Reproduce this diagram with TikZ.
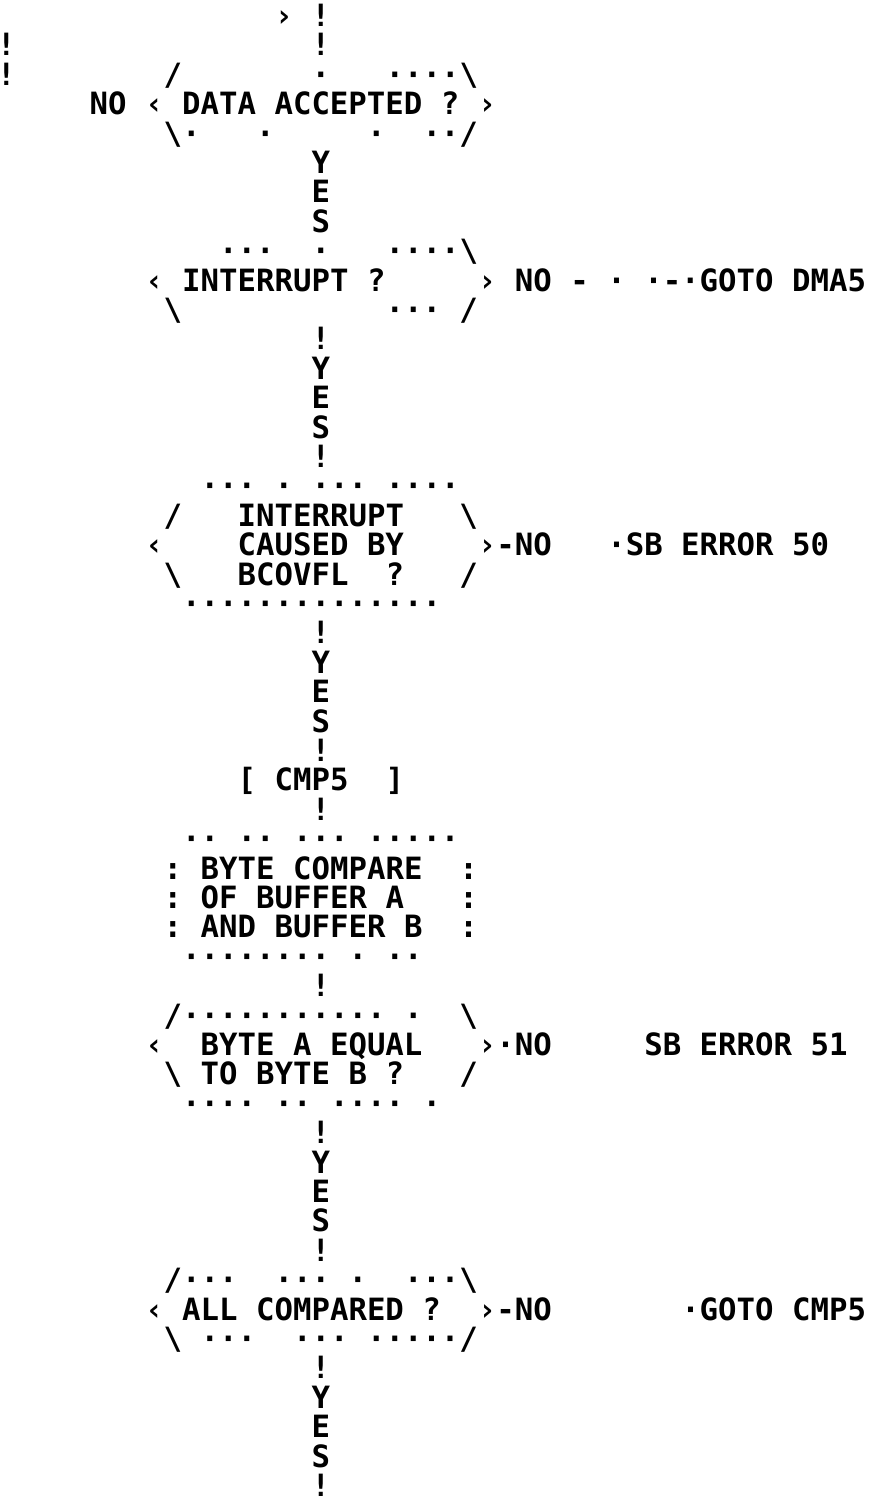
\documentclass[tikz,border=0pt]{standalone}
\usepackage{fontspec}
\setmonofont{DejaVu Sans Mono}
\usepackage{tikz}
\frenchspacing
\newcommand\lpfont{\ttfamily\bfseries\fontsize{30.7}{31}\selectfont}
\tikzset{lp/.style={anchor=base west, inner sep=0pt, outer sep=0pt, font=\lpfont}}

\begin{document}
\begin{tikzpicture}[x=18.5pt, y=29.4pt]
\useasboundingbox (-17.35,-0.1) rectangle (30.59,-51.22);
% entry
\node [lp] (in) at (-2.5,-1) {›~!};
\node [lp] (l2a) at (-17.5,-2) {!};
\node [lp] (l2b) at (-0.5,-2) {!};
\node [lp] (l3a) at (-17.5,-3) {!};
\node [lp] (l3b) at (-8.5,-3) {/};
\node [lp] (l3c) at (-0.5,-3) {·};
\node [lp] (l3d) at (3.5,-3) {····\textbackslash};
% data accepted ?
\node [lp] (acc) at (-12.5,-4) {NO~‹~DATA~ACCEPTED~?~›};
\node [lp] (acc2) at (-8.5,-5) {\textbackslash·~~~·~~~~~·~~··/};
\node [lp] (y1) at (-0.5,-6) {Y};
\node [lp] (e1) at (-0.5,-7) {E};
\node [lp] (s1) at (-0.5,-8) {S};
% interrupt ?
\node [lp] (int1) at (-5.5,-9) {···~~·~~~····\textbackslash};
\node [lp] (int) at (-9.5,-10) {‹~INTERRUPT~?~~~~~›~NO~-~·~·-·GOTO~DMA5};
\node [lp] (int3) at (-8.5,-11) {\textbackslash~~~~~~~~~~~···~/};
\node [lp] (b2) at (-0.5,-12) {!};
\node [lp] (y2) at (-0.5,-13) {Y};
\node [lp] (e2) at (-0.5,-14) {E};
\node [lp] (s2) at (-0.5,-15) {S};
\node [lp] (c2) at (-0.5,-16) {!};
% interrupt caused by bcovfl ?
\node [lp] (bc1) at (-6.5,-17) {···~·~···~····};
\node [lp] (bc2) at (-8.5,-18) {/~~~INTERRUPT~~~\textbackslash};
\node [lp] (bc) at (-9.5,-19) {‹~~~~CAUSED~BY~~~~›-NO~~~·SB~ERROR~50};
\node [lp] (bc4) at (-8.5,-20) {\textbackslash~~~BCOVFL~~?~~~/};
\node [lp] (bc5) at (-7.5,-21) {··············};
\node [lp] (b3) at (-0.5,-22) {!};
\node [lp] (y3) at (-0.5,-23) {Y};
\node [lp] (e3) at (-0.5,-24) {E};
\node [lp] (s3) at (-0.5,-25) {S};
\node [lp] (c3) at (-0.5,-26) {!};
% cmp5
\node [lp] (cmp) at (-4.5,-27) {[~CMP5~~]};
\node [lp] (b4) at (-0.5,-28) {!};
\node [lp] (bx1) at (-7.5,-29) {··~··~···~·····};
\node [lp] (bx2) at (-8.5,-30) {:~BYTE~COMPARE~~:};
\node [lp] (bx3) at (-8.5,-31) {:~OF~BUFFER~A~~~:};
\node [lp] (bx4) at (-8.5,-32) {:~AND~BUFFER~B~~:};
\node [lp] (bx5) at (-7.5,-33) {········~·~··};
\node [lp] (b5) at (-0.5,-34) {!};
% byte a equal ?
\node [lp] (eq1) at (-8.5,-35) {/···········~·~~\textbackslash};
\node [lp] (eq) at (-9.5,-36) {‹~~BYTE~A~EQUAL~~~›·NO~~~~~SB~ERROR~51};
\node [lp] (eq3) at (-8.5,-37) {\textbackslash~TO~BYTE~B~?~~~/};
\node [lp] (eq4) at (-7.5,-38) {····~··~····~·};
\node [lp] (b6) at (-0.5,-39) {!};
\node [lp] (y4) at (-0.5,-40) {Y};
\node [lp] (e4) at (-0.5,-41) {E};
\node [lp] (s4) at (-0.5,-42) {S};
\node [lp] (c4) at (-0.5,-43) {!};
% all compared ?
\node [lp] (all1) at (-8.5,-44) {/···~~···~·~~···\textbackslash};
\node [lp] (all) at (-9.5,-45) {‹~ALL~COMPARED~?~~›-NO~~~~~~~·GOTO~CMP5};
\node [lp] (all3) at (-8.5,-46) {\textbackslash~···~~···~·····/};
\node [lp] (b7) at (-0.5,-47) {!};
\node [lp] (y5) at (-0.5,-48) {Y};
\node [lp] (e5) at (-0.5,-49) {E};
\node [lp] (s5) at (-0.5,-50) {S};
\node [lp] (c5) at (-0.5,-51) {!};
\end{tikzpicture}
\end{document}
